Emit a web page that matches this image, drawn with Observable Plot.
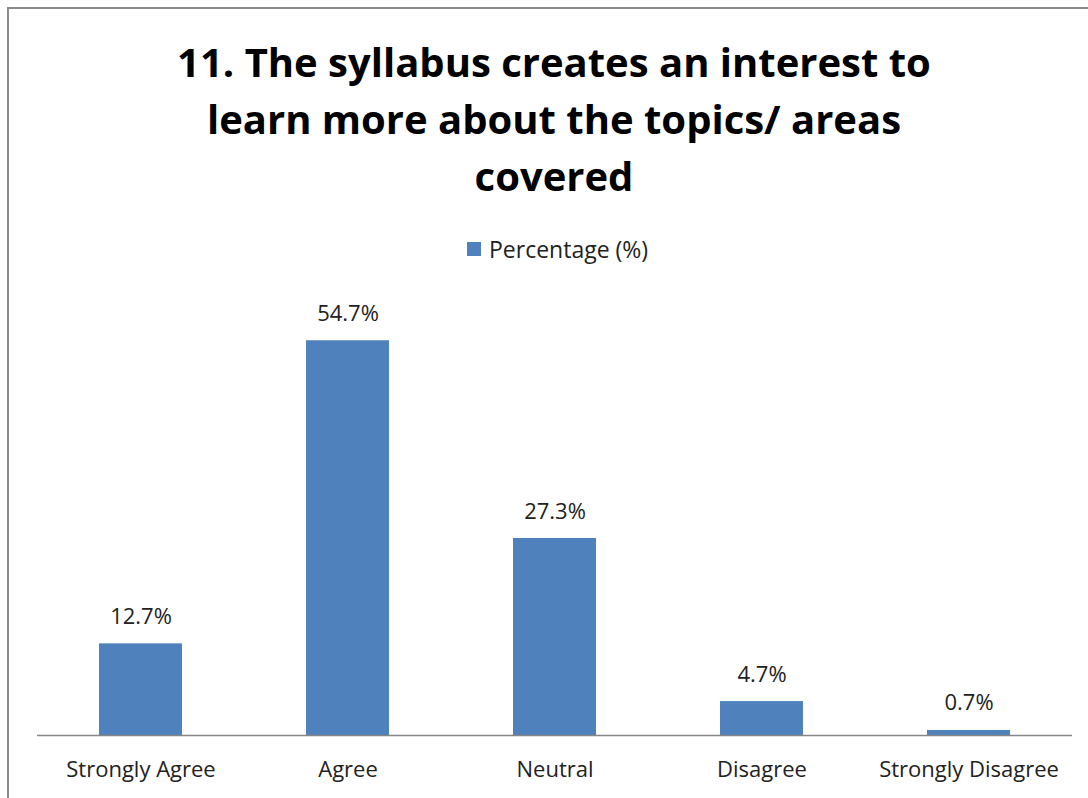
<!DOCTYPE html>
<html>
<head>
<meta charset="utf-8">
<script src="https://cdn.jsdelivr.net/npm/d3@7"></script>
<script src="https://cdn.jsdelivr.net/npm/@observablehq/plot@0.6"></script>
<style>
  html, body { margin: 0; padding: 0; background: #fff; overflow: hidden; }
  body { width: 1088px; height: 798px; position: relative; font-family: "Open Sans", sans-serif; }
  #frame { position: absolute; left: 7px; top: 7px; width: 1200px; height: 900px; border: 2px solid #8a8a8a; box-sizing: border-box; }
  #title { position: absolute; left: 0; top: 33px; width: 1108px; text-align: center; font-weight: bold; font-size: 40px; line-height: 57px; color: #000; }
  #legend { position: absolute; left: 467px; top: 233px; font-size: 23px; line-height: 32px; color: #222; display: flex; align-items: center; }
  #legend .sw { width: 14px; height: 14px; background: #4f81bd; margin-right: 8px; }
  #chart { position: absolute; left: 0; top: 0; }
</style>
</head>
<body>
<div id="frame"></div>
<div id="chart"></div>
<div id="title">11. The syllabus creates an interest to<br>learn more about the topics/ areas<br>covered</div>
<div id="legend"><div class="sw"></div><span id="legendText"></span></div>
<script>
const categories = ["Strongly Agree", "Agree", "Neutral", "Disagree", "Strongly Disagree"];
const percentages = [12.7, 54.7, 27.3, 4.7, 0.7];
const seriesName = "Percentage (%)";

document.getElementById("legendText").textContent = seriesName;

const data = categories.map((c, i) => ({category: c, value: percentages[i]}));

const chart = Plot.plot({
  width: 1088,
  height: 798,
  marginLeft: 37,
  marginRight: 16,
  marginTop: 302,
  marginBottom: 63,
  style: {fontFamily: "'Open Sans', sans-serif", background: "transparent"},
  x: {domain: categories, paddingInner: 0.6, paddingOuter: 0.3, label: null},
  y: {domain: [0, 60], axis: null},
  marks: [
    Plot.barY(data, {x: "category", y: "value", fill: "#4f81bd"}),
    Plot.ruleY([0], {stroke: "#868686", strokeWidth: 1.5}),
    Plot.text(data, {x: "category", y: "value", text: d => d.value.toFixed(1) + "%", dy: -27, fontSize: 22, fill: "#222"}),
    Plot.axisX({tickSize: 0, tickPadding: 26, fontSize: 22, color: "#222", label: null})
  ]
});
document.getElementById("chart").appendChild(chart);
</script>
</body>
</html>
